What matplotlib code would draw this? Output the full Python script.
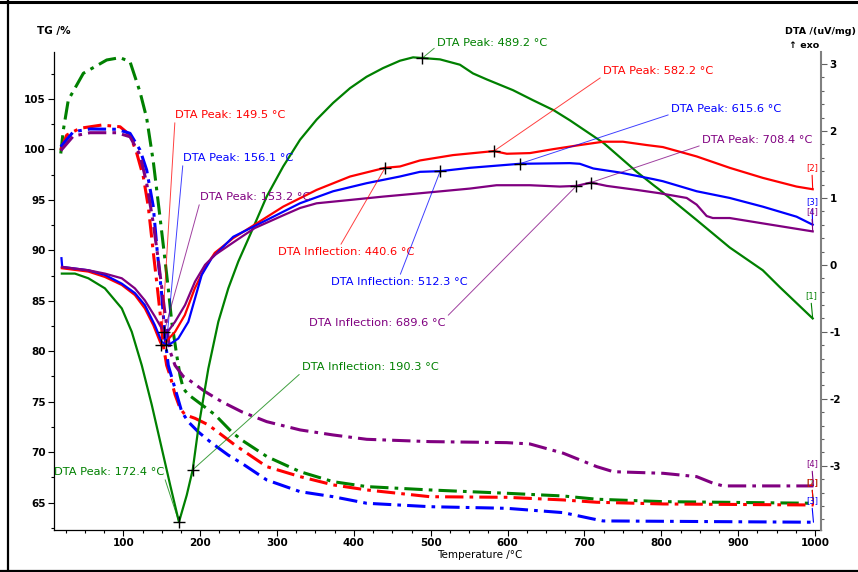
import numpy as np
import matplotlib
matplotlib.use("Agg")
import matplotlib.pyplot as plt
from matplotlib.lines import Line2D
from matplotlib.ticker import MultipleLocator

# ---- DTA curves (right axis, uV/mg) ----
green_dta_t = [20, 37, 54.5, 76, 98, 111, 124, 137, 150, 161, 172.4, 182.5, 190.3, 197.6, 210.6,
               223.6, 236.6, 249.6, 265, 286.5, 308, 330, 351.5, 373, 395, 416.5, 438, 460, 477,
               489.2, 512, 538, 555, 573, 607, 633, 660, 681, 703, 725, 746, 768, 790, 798, 846,
               889, 932, 954, 997]
green_dta = [-0.13, -0.13, -0.20, -0.35, -0.65, -1.00, -1.50, -2.09, -2.74, -3.29, -3.84, -3.44,
             -3.06, -2.44, -1.55, -0.85, -0.35, 0.05, 0.45, 1.02, 1.47, 1.87, 2.17, 2.42, 2.64,
             2.81, 2.94, 3.05, 3.10, 3.09, 3.07, 2.99, 2.86, 2.77, 2.61, 2.46, 2.31, 2.16, 1.99,
             1.82, 1.61, 1.39, 1.19, 1.12, 0.67, 0.26, -0.08, -0.33, -0.80]

red_dta_t = [20, 54.5, 76, 98, 115, 128, 139, 147.7, 149.5, 152, 167.3, 180, 193, 206, 219, 243,
             273.5, 308, 351.5, 395, 440.6, 460, 486, 529, 582.2, 599, 629, 660, 694, 724.5, 750,
             781, 802, 846, 889, 932, 976, 997]
red_dta = [-0.05, -0.10, -0.18, -0.30, -0.45, -0.65, -0.90, -1.15, -1.19, -1.19, -1.00, -0.75,
           -0.35, -0.05, 0.18, 0.40, 0.62, 0.87, 1.12, 1.32, 1.45, 1.47, 1.56, 1.64, 1.70, 1.66,
           1.67, 1.73, 1.79, 1.84, 1.84, 1.79, 1.76, 1.62, 1.45, 1.30, 1.17, 1.13]

blue_dta_t = [19.5, 20.5, 54.5, 76, 98, 115, 128, 141, 150, 156.1, 158.5, 171.5, 184.6, 193.3, 202,
              215, 243, 286.5, 329.8, 373, 416.5, 459.8, 486, 512.3, 551, 615.6, 681, 694, 711.5,
              746, 790, 802, 846, 889, 932, 976, 997]
blue_dta = [0.10, -0.03, -0.08, -0.15, -0.28, -0.42, -0.60, -0.90, -1.15, -1.19, -1.20, -1.10,
            -0.85, -0.50, -0.15, 0.10, 0.42, 0.67, 0.92, 1.10, 1.22, 1.32, 1.39, 1.40, 1.45, 1.51,
            1.52, 1.51, 1.44, 1.38, 1.28, 1.25, 1.10, 1.00, 0.87, 0.72, 0.60]

purple_dta_t = [20, 54.5, 76, 98, 115, 128, 141, 150, 153.2, 156.4, 167.3, 180.3, 193.3, 206.3,
                219.3, 247.5, 271, 308, 330, 351.5, 395, 438, 486, 551, 585.6, 629, 668, 689.6,
                708.4, 729, 768, 798, 833, 846, 859, 867, 889, 932, 997]
purple_dta = [-0.03, -0.08, -0.13, -0.20, -0.35, -0.53, -0.77, -0.95, -1.00, -1.02, -0.85, -0.60,
              -0.25, 0.00, 0.15, 0.37, 0.55, 0.74, 0.85, 0.92, 0.97, 1.02, 1.07, 1.14, 1.19, 1.19,
              1.17, 1.18, 1.23, 1.18, 1.12, 1.07, 1.00, 0.90, 0.73, 0.70, 0.70, 0.62, 0.50]

# ---- TG curves (left axis, %) ----
green_tg_t = [18.6, 21.9, 28.4, 48, 78.4, 95.7, 108.7, 121.7, 130.4, 139, 147.7, 154.3, 158.5, 163,
              169.5, 173.8, 178, 184.6, 202, 219.3, 241, 254, 287, 330, 373, 417, 499, 599, 672.5,
              716, 802.6, 998]
green_tg = [99.6, 101.9, 104.9, 107.55, 108.87, 109.1, 108.7, 105.7, 103.1, 98.8, 93.3, 89.0, 86.2,
            82.9, 79.6, 77.6, 76.3, 75.7, 74.7, 73.7, 72.0, 71.2, 69.55, 68.06, 67.07, 66.58,
            66.25, 65.92, 65.65, 65.33, 65.09, 64.93]

red_tg_t = [18.6, 26.4, 43.7, 71.9, 95.7, 108.7, 117.4, 126, 132.5, 139, 143.4, 147.7, 152, 156.4,
            160.8, 167.3, 173.8, 180.3, 193.3, 210.6, 228, 245.3, 286.6, 330, 373, 416.7, 499,
            598.8, 672.5, 716, 802.6, 998]
red_tg = [99.95, 101.43, 102.1, 102.42, 102.25, 101.43, 99.65, 97.3, 94.33, 89.8, 86.9, 83.9, 80.6,
          78.6, 77.6, 75.7, 74.35, 73.7, 73.35, 72.7, 71.7, 70.7, 68.56, 67.57, 66.75, 66.25,
          65.58, 65.52, 65.26, 65.03, 64.86, 64.76]

blue_tg_t = [18.6, 35, 56.7, 91.4, 108.7, 121.7, 130.4, 139, 144, 150, 154.3, 158.5, 167.3, 176,
             184.6, 197.6, 215, 236.6, 254, 286.6, 330, 373, 416.7, 499, 598.8, 672.5, 707, 724,
             998]
blue_tg = [100.27, 101.76, 102.03, 102.0, 101.6, 99.95, 97.96, 94.33, 90.0, 85.6, 81.3, 78.6, 76.3,
           74.0, 73.0, 72.0, 70.9, 69.7, 68.9, 67.24, 66.08, 65.58, 64.93, 64.59, 64.43, 64.0,
           63.44, 63.18, 63.05]

purple_tg_t = [18.6, 35, 56.7, 91.4, 108.7, 121.7, 130.4, 139, 145.5, 154.2, 160.8, 167.3, 178,
               184.6, 206.3, 228, 254, 286.6, 330, 373, 416.7, 499, 598.8, 629, 672.5, 716, 737.5,
               802.6, 846, 867.6, 880.6, 998]
purple_tg = [99.88, 101.33, 101.66, 101.66, 101.26, 99.45, 96.65, 92.68, 89.04, 83.76, 80.0, 78.6,
             77.5, 77.2, 76.0, 75.0, 74.0, 73.02, 72.2, 71.7, 71.27, 71.04, 70.94, 70.81, 69.89,
             68.56, 68.06, 67.9, 67.57, 66.91, 66.65, 66.65]

# ---- tick labels ----
x_ticks = [100, 200, 300, 400, 500, 600, 700, 800, 900, 1000]
tg_ticks = [65, 70, 75, 80, 85, 90, 95, 100, 105]
dta_ticks = [-3, -2, -1, 0, 1, 2, 3]

GREEN, RED, BLUE, PURPLE = '#008000', '#ff0000', '#0000ff', '#800080'
W, H = 858, 572

series = {
    'green': (GREEN, green_dta_t, green_dta, green_tg_t, green_tg, '[1]'),
    'red': (RED, red_dta_t, red_dta, red_tg_t, red_tg, '[2]'),
    'blue': (BLUE, blue_dta_t, blue_dta, blue_tg_t, blue_tg, '[3]'),
    'purple': (PURPLE, purple_dta_t, purple_dta, purple_tg_t, purple_tg, '[4]'),
}

# (series, temperature, kind, text position in pixels from top-left, line anchor on text)
events = [
    ('red', 149.5, 'Peak', (175, 115), (0, 0)),
    ('blue', 156.1, 'Peak', (183, 158), (0, 0)),
    ('purple', 153.2, 'Peak', (200, 197), (0, 0)),
    ('red', 440.6, 'Inflection', (278, 252), (0.45, 1)),
    ('blue', 512.3, 'Inflection', (331, 282), (0.5, 1)),
    ('purple', 689.6, 'Inflection', (309, 323), (1, 1)),
    ('green', 190.3, 'Inflection', (302, 367), (0, 0)),
    ('green', 172.4, 'Peak', (54, 472), (1, 0)),
    ('green', 489.2, 'Peak', (437, 43), (0, 0.2)),
    ('red', 582.2, 'Peak', (603, 71), (0, 0)),
    ('blue', 615.6, 'Peak', (671, 109), (0, 0)),
    ('purple', 708.4, 'Peak', (702, 140), (0, 0)),
]

# end-of-curve tags: (series, dta tag position, tg tag position)
tags = [
    ('green', (811, 296), (812, 483)),
    ('red', (812, 168), (812, 483)),
    ('blue', (812, 202), (812, 501)),
    ('purple', (812, 212), (812, 464)),
]

plt.rcParams['font.family'] = 'DejaVu Sans'
plt.rcParams['axes.unicode_minus'] = False

fig = plt.figure(figsize=(W / 100, H / 100), dpi=100)
ax = fig.add_axes([54 / W, 1 - 530 / H, (821 - 54) / W, (530 - 52) / H])
ax2 = ax.twinx()

dashdot = (0, (6, 2, 1.2, 2))
for name, (col, dt, dv, tt, tv, tag) in series.items():
    ax.plot(tt, tv, color=col, lw=2.2, ls=dashdot)
    ax2.plot(dt, dv, color=col, lw=1.6)

ax.set_xlim(9.8, 1007.8)
ax.set_ylim(62.28, 109.66)
ax2.set_ylim(-3.96, 3.18)

# events with crosses and leader lines
for name, t, kind, (tx, ty), rel in events:
    col, dt, dv = series[name][:3]
    yv = np.interp(t, dt, dv)
    ax2.plot(t, yv, marker='+', color='black', ms=8, mew=1, zorder=5)
    ax2.annotate(f'DTA {kind}: {t:.1f} °C', xy=(t, yv), xycoords='data',
                 xytext=(tx, H - ty), textcoords='figure pixels',
                 color=col, fontsize=8.2, ha='left', va='center',
                 arrowprops=dict(arrowstyle='-', color=col, lw=0.7, alpha=0.75,
                                 shrinkA=0, shrinkB=0, relpos=rel))

# curve tags at right end
for name, dpos, tpos in tags:
    col, dt, dv, tt, tv, tag = series[name]
    ax2.annotate(tag, xy=(dt[-1], dv[-1]), xytext=(dpos[0], H - dpos[1]),
                 textcoords='figure pixels', color=col, fontsize=6, ha='center', va='center',
                 arrowprops=dict(arrowstyle='-', color=col, lw=0.8, shrinkA=0, shrinkB=0,
                                 relpos=(0.5, 0)))
    ax.annotate(tag, xy=(tt[-1], tv[-1]), xytext=(tpos[0], H - tpos[1]),
                textcoords='figure pixels', color=col, fontsize=6, ha='center', va='center',
                arrowprops=dict(arrowstyle='-', color=col, lw=0.8, shrinkA=0, shrinkB=0,
                                relpos=(0.5, 0)))

# axes styling
for a in (ax, ax2):
    a.spines['top'].set_visible(False)
ax.spines['right'].set_visible(False)
ax2.spines['left'].set_visible(False)
ax2.spines['bottom'].set_visible(False)
ax2.spines['right'].set_color('#808080')
ax2.spines['right'].set_linewidth(1.5)
ax.spines['left'].set_linewidth(0.9)
ax.spines['bottom'].set_linewidth(0.9)

ax.set_xticks(x_ticks)
ax.set_xticklabels([str(v) for v in x_ticks], fontweight='bold')
ax.set_yticks(tg_ticks)
ax.set_yticklabels([str(v) for v in tg_ticks], fontweight='bold')
ax2.set_yticks(dta_ticks)
ax2.set_yticklabels([str(v) for v in dta_ticks], fontweight='bold')
ax.xaxis.set_minor_locator(MultipleLocator(25))
ax.yaxis.set_minor_locator(MultipleLocator(2.5))
ax2.yaxis.set_minor_locator(MultipleLocator(0.2))

ax.tick_params(which='major', length=4, width=0.8, labelsize=7.5, pad=2, colors='black')
ax.tick_params(which='minor', length=2.5, width=0.8)
ax2.tick_params(which='major', length=4, width=0.8, labelsize=7.5, pad=2, color='#606060')
ax2.tick_params(which='minor', length=2.5, width=0.8, color='#606060')

# axis titles
fig.text(37 / W, 1 - 31 / H, 'TG /%', fontsize=7.5, fontweight='bold', ha='left', va='center')
fig.text(856 / W, 1 - 31.5 / H, 'DTA /(uV/mg)', fontsize=6.8, fontweight='bold', ha='right', va='center')
fig.text(819 / W, 1 - 45 / H, '↑ exo', fontsize=6.8, fontweight='bold', ha='right', va='center')
fig.text(437 / W, 1 - 555 / H, 'Temperature /°C', fontsize=7.5, ha='left', va='center')

# window frame (top, left, bottom)
fig.add_artist(Line2D([0, 1], [1 - 2 / H] * 2, color='black', lw=2.2, transform=fig.transFigure))
fig.add_artist(Line2D([7.5 / W] * 2, [0, 1], color='black', lw=1.6, transform=fig.transFigure))
fig.add_artist(Line2D([0, 1], [1 - 570.5 / H] * 2, color='black', lw=1.6, transform=fig.transFigure))

fig.savefig('out.png', dpi=100)
